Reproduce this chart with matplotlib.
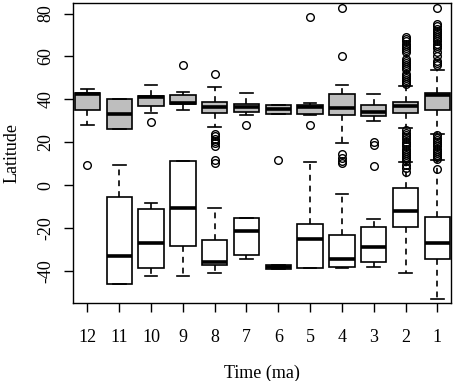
import matplotlib.pyplot as plt

plt.rcParams['font.family'] = ['Liberation Serif', 'DejaVu Serif']

times = ['12', '11', '10', '9', '8', '7', '6', '5', '4', '3', '2', '1']

# northern localities (grey boxes)
north_lo = [27.9, 26.0, 33.6, 34.9, 27.1, 32.9, 33.3, 32.5, 19.7, 29.8, 26.5, 24.0]
north_q1 = [35.2, 26.0, 36.9, 37.7, 33.8, 34.1, 33.3, 33.0, 32.9, 32.1, 33.8, 34.9]
north_med = [42.5, 33.2, 41.0, 38.5, 36.4, 36.4, 35.3, 36.3, 36.1, 34.1, 36.7, 42.0]
north_q3 = [43.1, 40.0, 41.5, 41.9, 38.7, 37.7, 37.2, 37.3, 42.6, 37.2, 38.7, 42.9]
north_hi = [45.0, 40.0, 46.5, 43.4, 45.7, 43.1, 37.2, 38.3, 46.5, 42.6, 46.0, 53.5]
north_out = [
    [9.3],
    [],
    [29.5],
    [55.8],
    [51.6, 24.0, 23.0, 21.7, 20.5, 19.4, 18.1, 11.6, 10.2],
    [27.9],
    [11.6],
    [78.6, 27.9],
    [82.6, 60.1, 14.4, 12.5, 11.3, 10.2],
    [20.1, 18.6, 8.8],
    [69.0, 68.0, 67.0, 66.0, 65.0, 64.0, 63.0, 62.0, 59.0, 58.0, 57.0, 56.0,
     55.0, 54.0, 52.0, 51.0, 50.0, 49.0, 48.0, 47.0,
     25.6, 24.5, 23.5, 22.5, 21.5, 20.0, 19.0, 18.0, 17.0, 16.0, 15.0, 14.0,
     13.0, 12.0, 11.0, 9.5, 8.0, 6.2],
    [82.6, 75.2, 74.0, 73.0, 72.0, 71.0, 70.0, 69.0, 68.0, 67.0, 66.0, 65.0,
     64.0, 62.0, 60.0, 58.0, 57.0, 55.8,
     23.3, 22.0, 21.0, 20.0, 19.0, 18.0, 17.0, 16.0, 15.0, 14.0, 13.0, 12.0, 7.7],
]

# southern localities (white boxes), none at 12 ma
south_pos = [2, 3, 4, 5, 6, 7, 8, 9, 10, 11, 12]
south_lo = [-46.0, -42.6, -42.3, -41.1, -34.4, -39.0, -38.8, -38.8, -38.0, -40.8, -53.2]
south_q1 = [-46.0, -38.5, -28.4, -37.2, -32.6, -39.0, -38.8, -38.0, -36.1, -19.7, -34.6]
south_med = [-32.9, -26.8, -10.9, -36.1, -21.2, -38.3, -25.1, -34.6, -29.0, -12.1, -27.1]
south_q3 = [-5.4, -11.0, 11.2, -25.4, -15.5, -37.3, -18.1, -23.3, -19.4, -1.5, -14.7]
south_hi = [9.3, -8.2, 11.2, -10.5, -15.5, -37.3, 10.8, -4.3, -15.8, 10.8, 11.6]


def make_stats(lo, q1, med, q3, hi, out=None):
    stats = []
    for i in range(len(med)):
        stats.append(dict(whislo=lo[i], q1=q1[i], med=med[i], q3=q3[i],
                          whishi=hi[i], fliers=out[i] if out else []))
    return stats


fig = plt.figure(figsize=(4.54, 3.81), dpi=100)
ax = fig.add_axes([0.1608, 0.2047, 0.8326, 0.7873])

common = dict(widths=0.8, capwidths=0.4, patch_artist=True,
              whiskerprops=dict(color='black', lw=1.2, linestyle=(0, (3.5, 3))),
              capprops=dict(color='black', lw=1.2),
              medianprops=dict(color='black', lw=2.6, solid_capstyle='butt'),
              flierprops=dict(marker='o', markerfacecolor='none',
                              markeredgecolor='black', markersize=5.5,
                              markeredgewidth=1.0))

ax.bxp(make_stats(north_lo, north_q1, north_med, north_q3, north_hi, north_out),
       positions=range(1, 13),
       boxprops=dict(facecolor='#BEBEBE', edgecolor='black', lw=1.2), **common)
ax.bxp(make_stats(south_lo, south_q1, south_med, south_q3, south_hi),
       positions=south_pos,
       boxprops=dict(facecolor='white', edgecolor='black', lw=1.2), **common)

ax.set_xlim(0.546, 12.43)
ax.set_ylim(-55, 84.9)
ax.set_xticks(range(1, 13))
ax.set_xticklabels(times)
ax.set_yticks([-40, -20, 0, 20, 40, 60, 80])
ax.set_yticklabels(['-40', '-20', '0', '20', '40', '60', '80'], rotation=90, va='center')
ax.tick_params(axis='both', direction='out', length=6.5, width=1, labelsize=13)
ax.tick_params(axis='x', pad=12)
ax.tick_params(axis='y', pad=7)
for s in ax.spines.values():
    s.set_linewidth(1)

ax.set_xlabel('Time (ma)', fontsize=13, labelpad=14)
ax.set_ylabel('Latitude', fontsize=13, labelpad=12)

fig.savefig('out.png', dpi=100)
